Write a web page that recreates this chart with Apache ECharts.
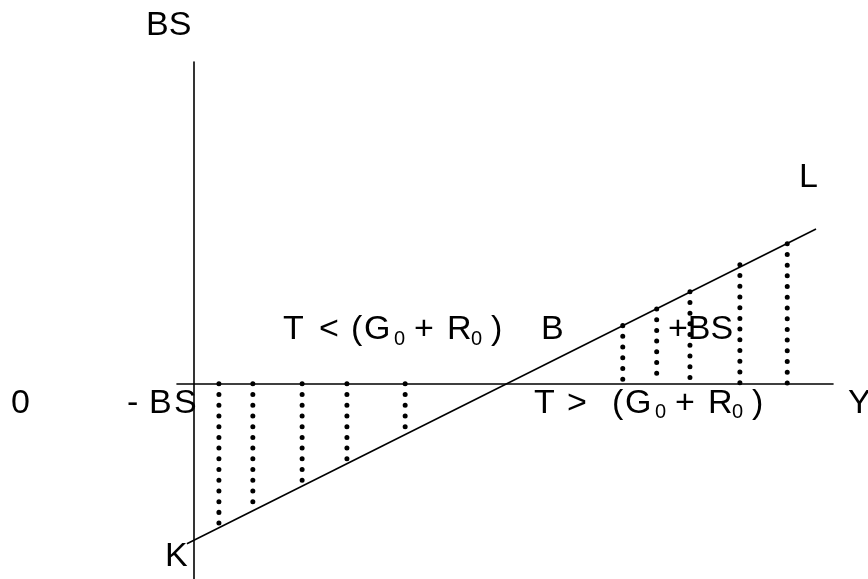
<!DOCTYPE html>
<html>
<head>
<meta charset="utf-8">
<script src="https://cdn.jsdelivr.net/npm/echarts@6/dist/echarts.min.js"></script>
<style>
html, body { margin: 0; padding: 0; background: #fff; }
#main { width: 868px; height: 579px; }
</style>
</head>
<body>
<div id="main"></div>
<script>
// line K -> L (income Y on x, budget surplus BS on y)
var lineX = [-1.1, 97.2];
var lineY = [-25, 24.2];
// dotted columns between the Y axis and the line
var colX = [3.9, 9.2, 16.9, 23.9, 33, 67, 72.3, 77.5, 85.3, 92.7];
var colVal = [-22.4, -19.7, -16, -12.5, -7.9, 9.1, 11.7, 14.4, 18.6, 21.9];

var font = 'Liberation Sans, Arial, sans-serif';
var lineData = lineX.map(function (x, i) { return [x, lineY[i]]; });
var colData = colX.map(function (x, i) { return [x, colVal[i]]; });

function txt(str, x, y) {
	return {
		type: 'text', x: x, y: y,
		style: { text: str, font: '34px ' + font, fill: '#000', align: 'left', verticalAlign: 'middle' }
	};
}
// text with subscripts, built from [piece, boxWidth, isSub] tokens
function subTxt(tokens, x, y) {
	var rich = {}, str = '';
	tokens.forEach(function (t, i) {
		var name = 't' + i;
		rich[name] = t[2]
			? { fontSize: 20, fontFamily: font, lineHeight: 14, verticalAlign: 'bottom', fill: '#000' }
			: { fontSize: 34, fontFamily: font, lineHeight: 38, fill: '#000' };
		if (t[1]) rich[name].width = t[1];
		str += '{' + name + '|' + t[0] + '}';
	});
	return {
		type: 'text', x: x, y: y,
		style: { text: str, fill: '#000', align: 'left', verticalAlign: 'middle', rich: rich }
	};
}
var tail = [['(', 13], ['G', 30], ['0', 20, 1], ['+', 33], ['R', 24], ['0', 20, 1], [')', 0]];

var chart = echarts.init(document.getElementById('main'));
chart.setOption({
	animation: false,
	grid: { left: 177, right: 35, top: 62, bottom: 0 },
	xAxis: {
		type: 'value', min: -2.65, max: 99.85,
		axisLine: { show: true, onZero: true, lineStyle: { color: '#000', width: 1.6 } },
		axisTick: { show: false }, axisLabel: { show: false }, splitLine: { show: false }
	},
	yAxis: {
		type: 'value', min: -30.5, max: 50.3,
		axisLine: { show: true, onZero: true, lineStyle: { color: '#000', width: 1.6 } },
		axisTick: { show: false }, axisLabel: { show: false }, splitLine: { show: false }
	},
	series: [{
		type: 'line',
		data: lineData,
		showSymbol: false,
		lineStyle: { color: '#000', width: 1.6 }
	}, {
		type: 'custom',
		data: colData,
		renderItem: function (params, api) {
			var v = api.value(1);
			// dots start from the upper end of each column
			var top = api.coord([api.value(0), Math.max(v, 0)]);
			var bot = api.coord([api.value(0), Math.min(v, 0)]);
			return {
				type: 'line',
				shape: { x1: top[0], y1: top[1], x2: bot[0], y2: bot[1] },
				style: { stroke: '#000', lineWidth: 5, lineCap: 'round', lineDash: [0.01, 10.7] }
			};
		}
	}],
	graphic: [
		txt('BS', 146, 25.5),
		txt('0', 11, 403.5),
		subTxt([['-', 22], ['B', 25], ['S', 0]], 127, 403.5),
		txt('Y', 848, 403.5),
		txt('K', 165, 557),
		txt('L', 799, 178),
		txt('B', 541, 330),
		txt('+BS', 668, 330),
		subTxt([['T', 36], ['<', 32]].concat(tail), 283, 330),
		subTxt([['T', 33], ['>', 45]].concat(tail), 534, 403.5)
	]
});
</script>
</body>
</html>
